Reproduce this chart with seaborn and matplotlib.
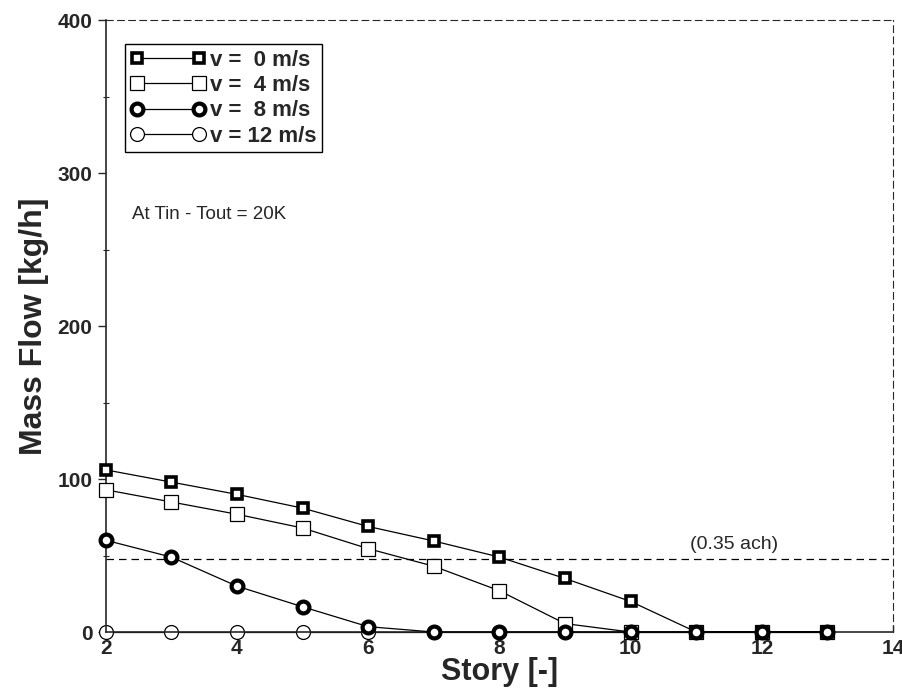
import numpy as np
import pandas as pd
import seaborn as sns
import matplotlib.pyplot as plt
from matplotlib.ticker import MultipleLocator

# story numbers
stories = [2, 3, 4, 5, 6, 7, 8, 9, 10, 11, 12, 13]

# mass flow [kg/h] per wind speed
flow_v0 = [106, 98, 90, 81, 69, 59.5, 49, 35, 20, 0, 0, 0]
flow_v4 = [93, 85, 77, 68, 54.5, 43, 27, 5.5, 0, 0, 0, 0]
flow_v8 = [60, 49, 30, 16.5, 3.5, 0, 0, 0, 0, 0, 0, 0]
flow_v12 = [0, 0, 0, 0, 0, 0, 0, 0, 0, 0, 0, 0]

labels = ['v =  0 m/s', 'v =  4 m/s', 'v =  8 m/s', 'v = 12 m/s']
ach_level = 47.5

sns.set_style('ticks')
plt.rcParams['font.family'] = ['Liberation Sans', 'DejaVu Sans']

fig = plt.figure(figsize=(9.03, 6.93), dpi=100)
ax = fig.add_axes([0.117, 0.088, 0.872, 0.883])

# marker, size, edge width, zorder per series
styles = [('s', 7.5, 2.6, 4), ('s', 9.5, 0.9, 3), ('o', 8.5, 3.0, 5), ('o', 10, 0.9, 2)]

for vals, lab, (mk, ms, mew, zo) in zip([flow_v0, flow_v4, flow_v8, flow_v12], labels, styles):
    df = pd.DataFrame({'story': stories, 'flow': vals})
    sns.lineplot(data=df, x='story', y='flow', ax=ax, color='black', lw=0.9,
                 marker=mk, markersize=ms, markeredgewidth=mew,
                 markerfacecolor='white', markeredgecolor='black', label=lab,
                 clip_on=False, zorder=zo)

ax.axhline(ach_level, color='black', lw=0.9, ls=(0, (6, 4)), zorder=1)
ax.text(11.57, 57, '(0.35 ach)', fontsize=14, ha='center', va='center')
ax.text(2.4, 273, 'At Tin - Tout = 20K', fontsize=13.5, ha='left', va='center')

ax.set_xlim(2, 14)
ax.set_ylim(0, 400)
ax.xaxis.set_major_locator(MultipleLocator(2))
ax.yaxis.set_major_locator(MultipleLocator(100))
ax.yaxis.set_minor_locator(MultipleLocator(50))
ax.tick_params(axis='both', which='major', direction='out', length=6, width=1,
               labelsize=15)
ax.tick_params(axis='x', direction='in', length=5, pad=5)
ax.tick_params(axis='y', which='minor', direction='inout', length=5, width=0.8)
for t in ax.get_xticklabels() + ax.get_yticklabels():
    t.set_fontweight('bold')

ax.set_xlabel('Story [-]', fontsize=22, fontweight='bold', labelpad=-1)
ax.set_ylabel('Mass Flow [kg/h]', fontsize=23, fontweight='bold', labelpad=6)

for side in ['top', 'right']:
    ax.spines[side].set_visible(True)
    ax.spines[side].set_linestyle((0, (6, 4)))
    ax.spines[side].set_linewidth(0.8)
ax.spines['left'].set_linewidth(1.2)
ax.spines['bottom'].set_linewidth(1.2)

leg = ax.legend(loc='upper left', numpoints=2, handlelength=3.4, fancybox=False,
                edgecolor='black', framealpha=1, borderpad=0.25, labelspacing=0.2,
                handletextpad=0.2, borderaxespad=0, bbox_to_anchor=(0.024, 0.961),
                prop={'weight': 'bold', 'size': 16})
leg.get_frame().set_linewidth(1.0)

fig.savefig('out.png', dpi=100)
